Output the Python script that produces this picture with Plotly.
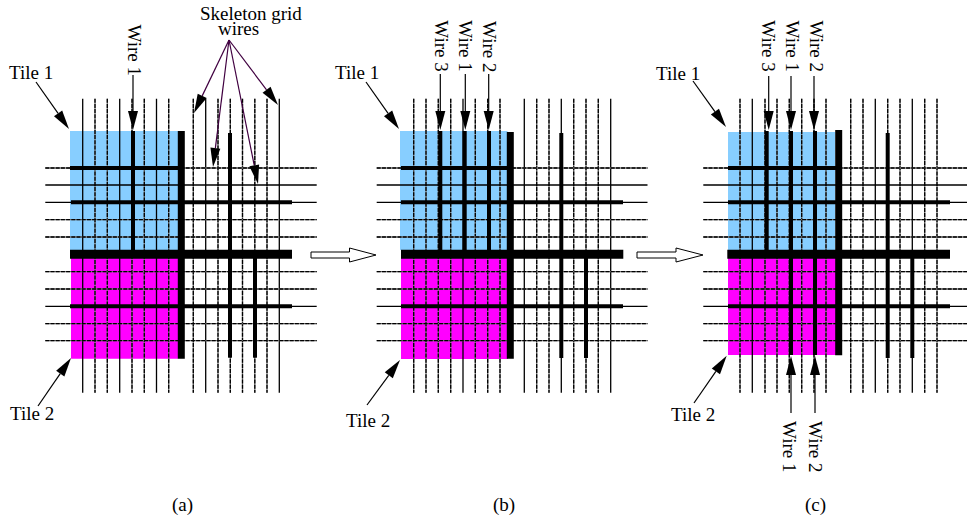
import math
import plotly.graph_objects as go

W, H = 967, 519
# thin wires: (position, dashed?)
thin_v = {
 "a": [(82.7,0),(95,1),(107.3,1),(119.7,0),(132,1),(144.3,1),(156.5,0),(168.7,1),(193.3,1),(205.7,0),(218,1),(230.3,1),(242.5,1),(254.8,1),(267,1),(279.3,0)],
 "b": [(413.7,1),(426,1),(438.3,1),(450.7,1),(463,0),(475.3,1),(487.7,1),(500,1),(524.3,0),(536.7,1),(549,1),(561.3,0),(573.7,1),(586,1),(598.3,1),(610.7,0)],
 "c": [(740,1),(752.3,0),(765,1),(777,1),(789.3,1),(801.7,1),(814,1),(826,1),(850.7,1),(863,1),(875.3,0),(887.7,1),(900,1),(912.3,0),(924.7,1),(937,1)],
}
thin_h = [(168,1),(185,0),(202.3,0),(219.7,1),(237,1),(271.7,1),(289,1),(306.3,0),(323.7,1),(340.7,1)]
thin_y_span = (98.7, 392.7)
thin_x_span = {"a": (45.3, 316.7), "b": (376.7, 647.5), "c": (703.3, 967)}

blue = {"a": (70,178,131,250), "b": (400,507.5,131,250), "c": (728,835,132,250)}
magenta = {"a": (71,178,250,358.7), "b": (401,508,250,359), "c": (728,836,250,355)}

# heavy wires: x0, x1, y0, y1, width
heavy = {
 "a": [(70,178,168,168,4),(71,292,202.3,202.3,4),(70,292,306.3,306.3,4),
       (133,133,131,250,4),(230,230,133,357.7,4),(255,255,254,357.7,4),
       (181.3,181.3,131,358.7,7),(70,292,254.3,254.3,9)],
 "b": [(401,508,168,168,4),(401,623,202.3,202.3,4),(401,623,306.3,306.3,4),
       (440.3,440.3,131,250,4),(464.7,464.7,131,250,4),(489,489,131,250,4),
       (561.3,561.3,133,358,4),(586,586,254,358,4),
       (510.3,510.3,132,358.7,7),(401,623.3,254.3,254.3,9)],
 "c": [(728,836,168,168,4),(728,950,202.3,202.3,4),(728,950,306.3,306.3,4),
       (766.7,766.7,131,250,4),(791,791,131,355,4),(815,815,131,355,4),
       (887.7,887.7,133,358,4),(912.3,912.3,254,358,4),
       (838.7,838.7,130,355.3,7),(727.3,950,254.3,254.3,9)],
}
# arrows: tail x, tail y, tip x, tip y
black_arrows = [
 (36,82,69,129),(133,75,133,130),(38,406,71,358),
 (366,82,399,129),(440.3,74,440.3,130),(465.3,74,465.3,130),(488.7,74,488.7,130),(367,405,400,360),
 (693,81,726,127),(768.7,76,768.7,130),(791,76,791,130),(814,76,814,130),(694,403,726.7,355.7),
 (791,413,791,356),(815,413,815,356),
]
purple_arrows = [(229,40,194,113),(229,40,213,167),(229,40,258,184),(229,40,278,105)]
block_arrows = [(311,349.5,376,255),(637,676,703,255)]

labels = [("Skeleton grid",251,13,0),("wires",238,28,0),("Tile 1",31,72,0),("Tile 2",32,413,0),
          ("Wire 1",134.5,50,90),("Tile 1",357,72,0),("Tile 2",368,420,0),
          ("Wire 3",441.7,46,90),("Wire 1",465.7,46,90),("Wire 2",490,46,90),
          ("Tile 1",678,73,0),("Tile 2",692.7,414,0),
          ("Wire 3",768.7,46,90),("Wire 1",792.5,46,90),("Wire 2",816.5,46,90),
          ("Wire 1",790,446,90),("Wire 2",816,446,90),
          ("(a)",182,505,0),("(b)",504,505,0),("(c)",815.7,505,0)]

fig = go.Figure()

def line(x, y, w=1.3, color="#000", dash="solid"):
    fig.add_trace(go.Scatter(x=x, y=y, mode="lines", hoverinfo="skip",
                             line=dict(color=color, width=w, dash=dash)))

def poly(x, y, fill, lc=None, lw=0):
    fig.add_trace(go.Scatter(x=x, y=y, mode="lines", fill="toself", fillcolor=fill, hoverinfo="skip",
                             line=dict(color=lc or fill, width=lw)))

def rect(r, fill):
    x0, x1, y0, y1 = r
    poly([x0,x1,x1,x0,x0], [y0,y0,y1,y1,y0], fill)

def thin(x, y, d):
    if d:
        line(x, y, 1.3, "#777")
        line(x, y, 1.3, "#000", "4px,1.2px")
    else:
        line(x, y, 1.3)

for p in "abc":
    rect(blue[p], "#87CEFF")
    rect(magenta[p], "#FF00FF")
    for x, d in thin_v[p]:
        thin([x,x], list(thin_y_span), d)
    for y, d in thin_h:
        thin(list(thin_x_span[p]), [y,y], d)
    for x0,x1,y0,y1,w in heavy[p]:
        line([x0,x1],[y0,y1],w)

def arrow(a, color):
    x0,y0,x1,y1 = a
    L = math.hypot(x1-x0, y1-y0)
    ux,uy = (x1-x0)/L,(y1-y0)/L
    hl, hw = 19, 5
    bx,by = x1-ux*hl, y1-uy*hl
    line([x0,bx],[y0,by],1.2,color)
    poly([x1,bx-uy*hw,bx+uy*hw,x1],[y1,by+ux*hw,by-ux*hw,y1],"#000")

for a in black_arrows:
    arrow(a, "#000")
for a in purple_arrows:
    arrow(a, "#400040")

for x0,xb,xt,y in block_arrows:
    poly([x0,xb,xb,xt,xb,xb,x0,x0],[y-3,y-3,y-7,y,y+7,y+3,y+3,y-3],"#fff","#000",1)

anns = [dict(text=t,x=x,y=y,xref="x",yref="y",textangle=a,showarrow=False,
             font=dict(family="Liberation Serif",size=19,color="#000"))
        for t,x,y,a in labels]

fig.update_layout(width=W,height=H,margin=dict(l=0,r=0,t=0,b=0),showlegend=False,
                  paper_bgcolor="#fff",plot_bgcolor="#fff",annotations=anns,
                  xaxis=dict(range=[0,W],visible=False,fixedrange=True),
                  yaxis=dict(range=[H,0],visible=False,fixedrange=True))
fig.write_html("out.html",config=dict(displayModeBar=False),
               post_script="document.body.style.margin='0';document.body.style.overflow='hidden';")
